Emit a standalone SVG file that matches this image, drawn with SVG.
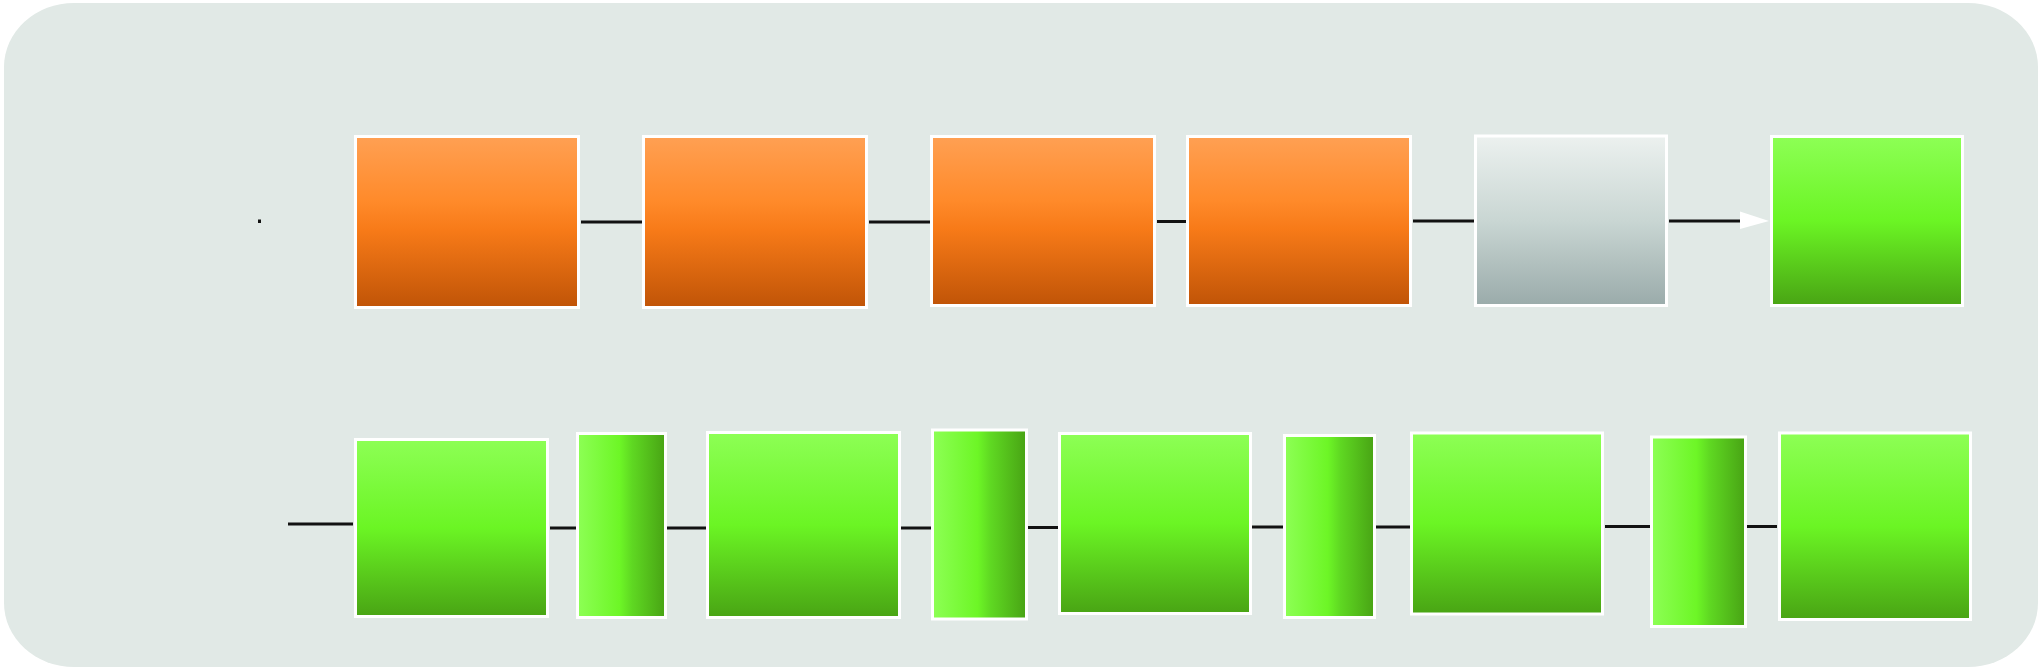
<svg xmlns="http://www.w3.org/2000/svg" width="2042" height="669" viewBox="0 0 2042 669">
<defs>
<linearGradient id="gOrange" x1="0" y1="0" x2="0" y2="1">
<stop offset="0" stop-color="#ffa053"/>
<stop offset="0.38" stop-color="#ff8a2a"/>
<stop offset="0.55" stop-color="#f77a18"/>
<stop offset="1" stop-color="#c05407"/>
</linearGradient>
<linearGradient id="gGray" x1="0" y1="0" x2="0" y2="1">
<stop offset="0" stop-color="#ecf1ef"/>
<stop offset="0.5" stop-color="#c9d6d3"/>
<stop offset="1" stop-color="#9aabaa"/>
</linearGradient>
<linearGradient id="gGreenV" x1="0" y1="0" x2="0" y2="1">
<stop offset="0" stop-color="#8dff55"/>
<stop offset="0.5" stop-color="#6bf524"/>
<stop offset="1" stop-color="#49a414"/>
</linearGradient>
<linearGradient id="gGreenH" x1="0" y1="0" x2="1" y2="0">
<stop offset="0" stop-color="#8dff55"/>
<stop offset="0.48" stop-color="#6df626"/>
<stop offset="0.62" stop-color="#5fd822"/>
<stop offset="1" stop-color="#48a314"/>
</linearGradient>
</defs>
<style>
.bg{fill:#e1e9e6;}
.box{stroke:#ffffff;stroke-width:3;}
.o{fill:url(#gOrange);}
.g{fill:url(#gGray);}
.gv{fill:url(#gGreenV);}
.gh{fill:url(#gGreenH);}
.c{stroke:#121212;stroke-width:3;fill:none;}
</style>
<rect class="bg" x="4" y="3" width="2034" height="664" rx="70" ry="64"/>
<g id="connectors">
<line class="c" x1="259.5" y1="219.5" x2="259.5" y2="223" stroke-width="1.2"/>
<line class="c" x1="581" y1="222" x2="642" y2="222"/>
<line class="c" x1="869" y1="222" x2="930" y2="222"/>
<line class="c" x1="1157" y1="221.5" x2="1186" y2="221.5"/>
<line class="c" x1="1413" y1="221" x2="1474" y2="221"/>
<line class="c" x1="1669" y1="221" x2="1741" y2="221"/>
<polygon points="1740,211.5 1769,221 1740,229" fill="#ffffff"/>
<line class="c" x1="288" y1="524" x2="353" y2="524"/>
<line class="c" x1="550" y1="528" x2="576" y2="528"/>
<line class="c" x1="667" y1="528" x2="706" y2="528"/>
<line class="c" x1="901" y1="528" x2="931" y2="528"/>
<line class="c" x1="1028" y1="527.5" x2="1058" y2="527.5"/>
<line class="c" x1="1252" y1="527" x2="1283" y2="527"/>
<line class="c" x1="1376" y1="527" x2="1410" y2="527"/>
<line class="c" x1="1605" y1="526.5" x2="1650" y2="526.5"/>
<line class="c" x1="1747" y1="526.5" x2="1777" y2="526.5"/>
</g>
<g id="node-o1"><rect class="box o" x="355.5" y="136.5" width="223" height="171"/></g>
<g id="node-o2"><rect class="box o" x="643.5" y="136.5" width="223" height="171"/></g>
<g id="node-o3"><rect class="box o" x="931.5" y="136.5" width="223" height="169"/></g>
<g id="node-o4"><rect class="box o" x="1187.5" y="136.5" width="223" height="169"/></g>
<g id="node-gray"><rect class="box g" x="1475.5" y="136" width="191" height="169.5"/></g>
<g id="node-top-green"><rect class="box gv" x="1771.5" y="136.5" width="191" height="169"/></g>
<g id="node-b1"><rect class="box gv" x="355.5" y="439.5" width="192" height="177"/></g>
<g id="node-b2"><rect class="box gh" x="577.5" y="433.5" width="88" height="184"/></g>
<g id="node-b3"><rect class="box gv" x="707.5" y="432.5" width="192" height="185"/></g>
<g id="node-b4"><rect class="box gh" x="932.5" y="430" width="94" height="189"/></g>
<g id="node-b5"><rect class="box gv" x="1059.5" y="433.5" width="191" height="180"/></g>
<g id="node-b6"><rect class="box gh" x="1284.5" y="435.5" width="90" height="182"/></g>
<g id="node-b7"><rect class="box gv" x="1411.5" y="433" width="191" height="181"/></g>
<g id="node-b8"><rect class="box gh" x="1651.5" y="437" width="94" height="189.5"/></g>
<g id="node-b9"><rect class="box gv" x="1779.5" y="433" width="191" height="186.5"/></g>
</svg>
